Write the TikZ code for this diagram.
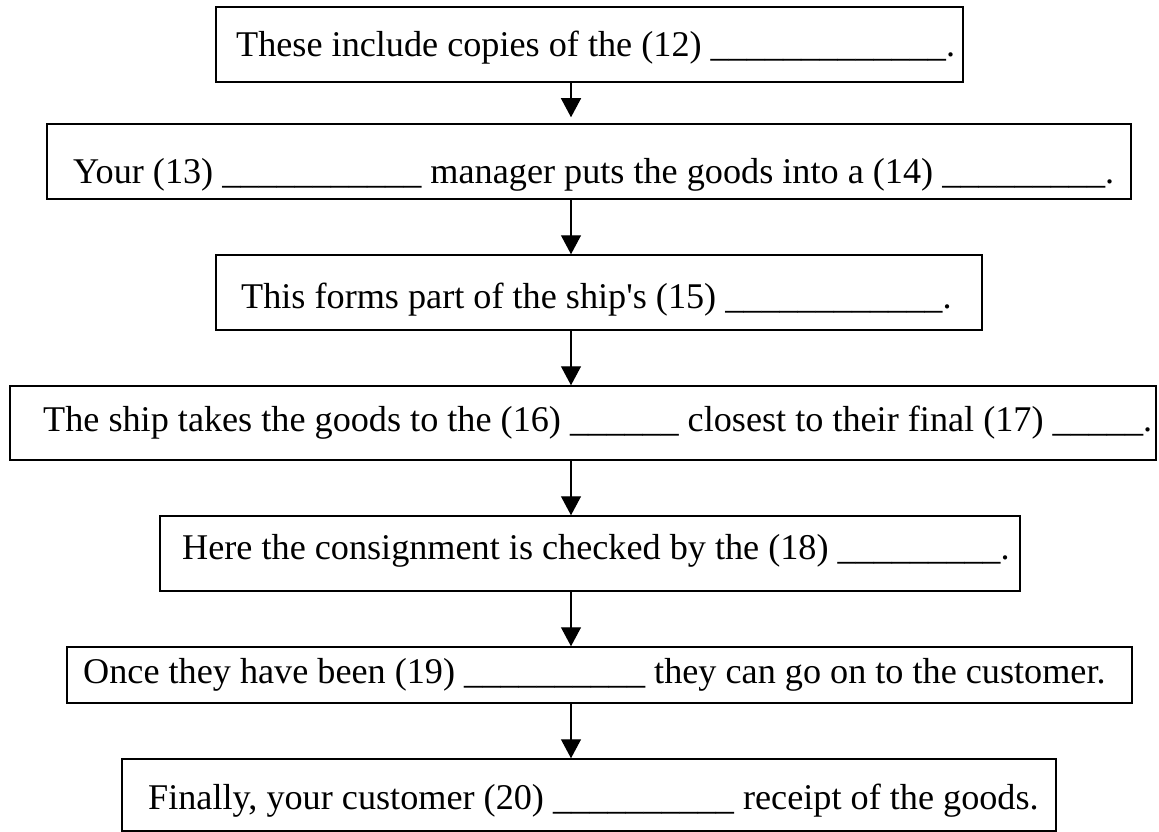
\documentclass[tikz,border=0pt]{standalone}
\usepackage{fontspec}
\setmainfont{Liberation Serif}
\usetikzlibrary{arrows.meta}
\tikzset{
  box/.style={draw=black, line width=1.5pt, rectangle, inner sep=0pt},
  txt/.style={anchor=base west, inner sep=0pt, font=\fontsize{36.2}{43}\selectfont},
  arr/.style={draw=black, line width=1.3pt, -{Triangle[width=20pt,length=19pt]}}
}
\begin{document}
\begin{tikzpicture}[x=1pt,y=-1pt]
\useasboundingbox (0,0) rectangle (1159,832);
% boxes
\node[box, minimum width=747pt, minimum height=75pt] (b1) at (589.5,44.5) {};
\node[box, minimum width=1084pt, minimum height=75pt] (b2) at (589,161.5) {};
\node[box, minimum width=766pt, minimum height=75pt] (b3) at (599,292.5) {};
\node[box, minimum width=1146pt, minimum height=74pt] (b4) at (583,423) {};
\node[box, minimum width=860pt, minimum height=75pt] (b5) at (590,553.5) {};
\node[box, minimum width=1065pt, minimum height=56pt] (b6) at (599.5,675) {};
\node[box, minimum width=934pt, minimum height=72pt] (b7) at (589,795) {};
% texts
\node[txt] (t1) at (236,57) {These include copies of the (12) \_\_\_\_\_\_\_\_\_\_\_\_\_.};
\node[txt] (t2) at (73,183) {Your (13) \_\_\_\_\_\_\_\_\_\_\_ manager puts the goods into a (14) \_\_\_\_\_\_\_\_\_.};
\node[txt] (t3) at (241,308) {This forms part of the ship\textquotesingle s (15) \_\_\_\_\_\_\_\_\_\_\_\_.};
\node[txt] (t4) at (43,431) {The ship takes the goods to the (16) \_\_\_\_\_\_ closest to their final (17) \_\_\_\_\_.};
\node[txt] (t5) at (182,559) {Here the consignment is checked by the (18) \_\_\_\_\_\_\_\_\_.};
\node[txt] (t6) at (83,683) {Once they have been (19) \_\_\_\_\_\_\_\_\_\_ they can go on to the customer.};
\node[txt] (t7) at (148,809) {Finally, your customer (20) \_\_\_\_\_\_\_\_\_\_ receipt of the goods.};
% arrows
\coordinate (ax) at (571,0);
\draw[arr, shorten >=6pt] (b1.south -| ax) -- (b2.north -| ax);
\draw[arr] (b2.south -| ax) -- (b3.north -| ax);
\draw[arr] (b3.south -| ax) -- (b4.north -| ax);
\draw[arr] (b4.south -| ax) -- (b5.north -| ax);
\draw[arr] (b5.south -| ax) -- (b6.north -| ax);
\draw[arr] (b6.south -| ax) -- (b7.north -| ax);
\end{tikzpicture}
\end{document}
